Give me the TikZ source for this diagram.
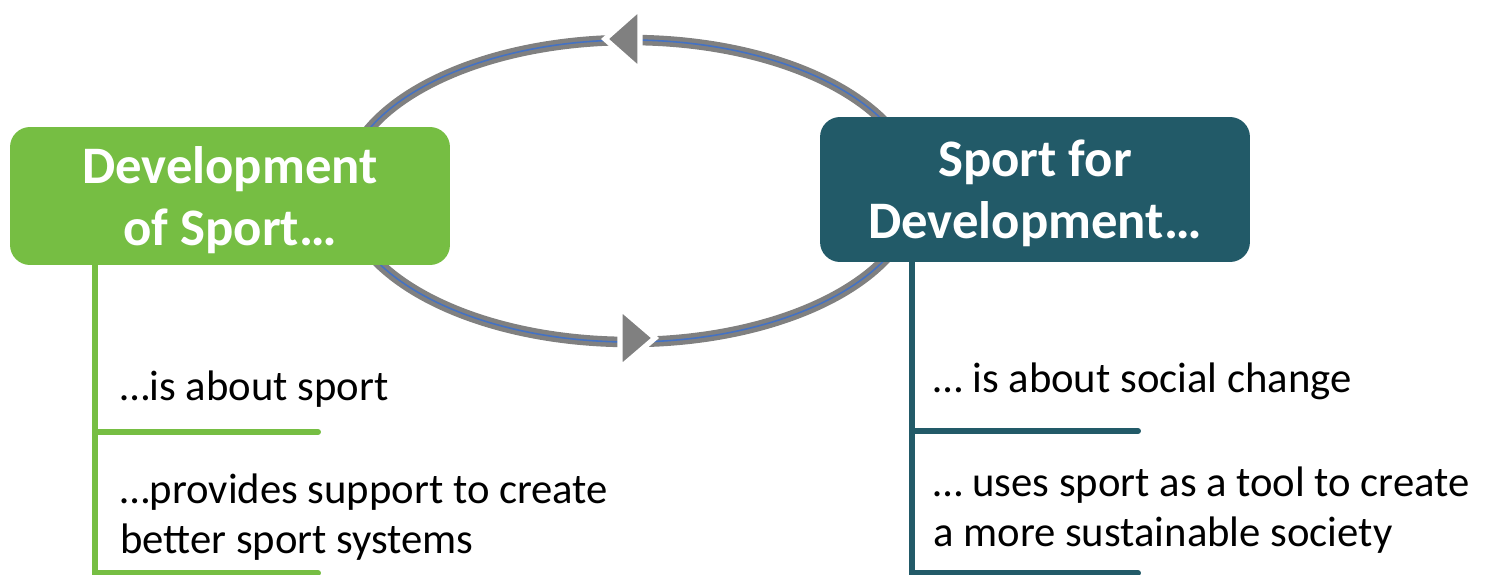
\documentclass[tikz,border=0pt]{standalone}
\usepackage{fontspec}
\setmainfont{Carlito}
\definecolor{devgreen}{HTML}{76BE43}
\definecolor{sportteal}{HTML}{225A68}
\definecolor{cyclegray}{HTML}{808080}
\definecolor{cycleblue}{HTML}{4472C4}
\begin{document}
\begin{tikzpicture}[x=0.02cm,y=-0.02cm,
  titlebox/.style={rounded corners=0.4cm,text=white,font=\bfseries\fontsize{30}{35.3}\selectfont,align=center,inner sep=0,text depth=0pt},
  bodytext/.style={anchor=base west,align=left,inner sep=0,font=\fontsize{24.3}{28.45}\selectfont},
  branch/.style={line width=3.4pt,line cap=round},
  cyclehead/.style={draw=white,line width=3pt,fill=cyclegray}]
\useasboundingbox (0,0) rectangle (1485,575);

% Cycle
\coordinate (C) at (630,191);
\draw[cyclegray,line width=6pt] (C) ellipse [x radius=286,y radius=151];
\draw[cycleblue,line width=0.9pt] (C) ellipse [x radius=286,y radius=151];
\draw[cyclehead] (605,39) -- (640,8) -- (640,70) -- cycle; % to the left
\draw[cyclehead] (655,338) -- (620,308) -- (620,368) -- cycle; % to the right

% Boxes
\node[titlebox,fill=devgreen,minimum width=8.8cm,minimum height=2.76cm] (DoS) at (230,196) {Development\\of Sport…};
\node[titlebox,fill=sportteal,minimum width=8.6cm,minimum height=2.9cm] (SfD) at (1035,189.5) {Sport for\\Development…};

% Branches
\coordinate (DoSend) at (95,578);
\coordinate (DoS1) at (318,432);
\coordinate (DoS2) at (318,573);
\draw[devgreen,branch] (DoS.south -| DoSend) -- (DoSend);
\draw[devgreen,branch] (DoSend |- DoS1) -- (DoS1);
\draw[devgreen,branch] (DoSend |- DoS2) -- (DoS2);

\coordinate (SfDend) at (912,578);
\coordinate (SfD1) at (1138,431);
\coordinate (SfD2) at (1138,573);
\draw[sportteal,branch] (SfD.south -| SfDend) -- (SfDend);
\draw[sportteal,branch] (SfDend |- SfD1) -- (SfD1);
\draw[sportteal,branch] (SfDend |- SfD2) -- (SfD2);

% Texts
\node[bodytext] (DoSa) at (120,400) {…is about sport};
\node[bodytext] (DoSb) at (120,553) {…provides support to create\\better sport systems};
\node[bodytext] (SfDa) at (933,392) {… is about social change};
\node[bodytext] (SfDb) at (933,546) {… uses sport as a tool to create\\a more sustainable society};
\end{tikzpicture}
\end{document}
